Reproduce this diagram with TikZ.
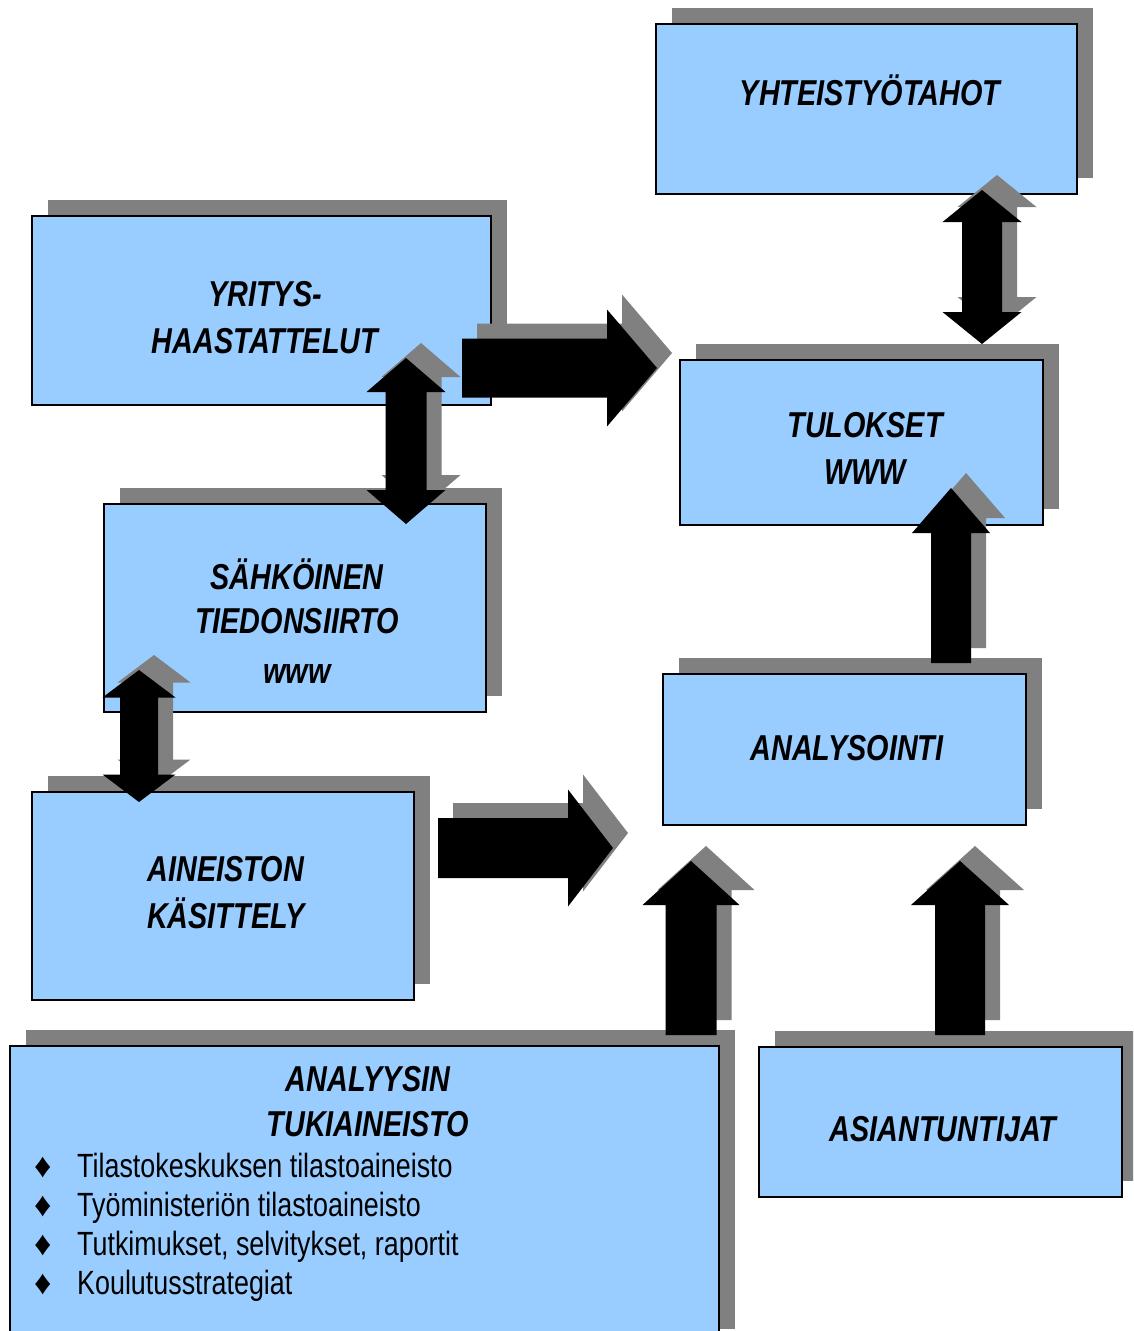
\documentclass[tikz,border=0pt]{standalone}
\usepackage{fontspec}
\setmainfont{Liberation Sans}[FakeStretch=0.8]
\newfontfamily\bulfont{Liberation Sans}
\usepackage{tikz}
\usetikzlibrary{calc, shadows, positioning}

\definecolor{boxblue}{HTML}{99CCFF}
\definecolor{shadowgray}{HTML}{808080}

\newcommand{\stack}[1]{\begin{tabular}[t]{@{}c@{}}#1\end{tabular}}
\newcommand{\bul}{\makebox[43pt][l]{\bulfont\fontsize{34}{39}\selectfont\symbol{"2666}}}

% block arrow with one head: from, to, half shaft, half head, head length
\newcommand{\onearrow}[5]{%
  \coordinate (h) at ($(#2)!#5!(#1)$);
  \fill[block arrow] ($(#1)!#3!90:(#2)$) -- ($(h)!#3!90:(#2)$) -- ($(h)!#4!90:(#2)$) -- (#2)
    -- ($(h)!#4!-90:(#2)$) -- ($(h)!#3!-90:(#2)$) -- ($(#1)!#3!-90:(#2)$) -- cycle;}

% block arrow with two heads
\newcommand{\twoarrow}[5]{%
  \coordinate (ha) at ($(#1)!#5!(#2)$);
  \coordinate (hb) at ($(#2)!#5!(#1)$);
  \fill[block arrow] (#1) -- ($(ha)!#4!90:(#2)$) -- ($(ha)!#3!90:(#2)$) -- ($(hb)!#3!90:(#2)$)
    -- ($(hb)!#4!90:(#2)$) -- (#2) -- ($(hb)!#4!-90:(#2)$) -- ($(hb)!#3!-90:(#2)$)
    -- ($(ha)!#3!-90:(#2)$) -- ($(ha)!#4!-90:(#2)$) -- cycle;}

\begin{document}
\begin{tikzpicture}[x=1pt,y=-1pt,
        flow box/.style={rectangle,draw=black,line width=1.6pt,fill=boxblue,
                drop shadow={shadow xshift=16pt,shadow yshift=16pt,fill=shadowgray,opacity=1}},
        head text/.style={anchor=base,inner sep=0pt,font=\fontsize{36}{47}\selectfont\bfseries\itshape},
        list text/.style={anchor=base west,inner sep=0pt,font=\fontsize{33.6}{39}\selectfont},
        block arrow/.style={fill=black,
                drop shadow={shadow xshift=15pt,shadow yshift=15pt,fill=shadowgray,opacity=1}}]
    \useasboundingbox (0,0) rectangle (1133,1331);
    \clip (0,0) rectangle (1133,1331);

    % boxes
    \node[flow box,minimum width=421pt,minimum height=170pt] (yht) at (866.5,109) {};
    \node[flow box,minimum width=459pt,minimum height=189pt] (yrit) at (261.5,310.5) {};
    \node[flow box,minimum width=382pt,minimum height=208pt] (sahk) at (295,608) {};
    \node[flow box,minimum width=382pt,minimum height=208pt] (aine) at (223,896) {};
    \node[flow box,minimum width=709pt,minimum height=299pt] (tuki) at (364.5,1195.5) {};
    \node[flow box,minimum width=363pt,minimum height=150pt] (asia) at (940.5,1122) {};
    \node[flow box,minimum width=363pt,minimum height=165pt] (tulos) at (861.5,442.5) {};
    \node[flow box,minimum width=363pt,minimum height=151pt] (analy) at (844.5,749.5) {};

    % texts
    \node[head text] (yhtT) at (870,105) {YHTEISTYÖTAHOT};
    \node[head text] (yritT) at (265,306) {\stack{YRITYS-\\HAASTATTELUT}};
    \node[head text] (sahkT) at (297,589) {\stack{SÄHKÖINEN\\[-3pt]TIEDONSIIRTO\\[3pt]www}};
    \node[head text] (aineT) at (226,881) {\stack{AINEISTON\\KÄSITTELY}};
    \node[head text] (tulosT) at (865,437) {\stack{TULOKSET\\WWW}};
    \node[head text] (analyT) at (847,760) {ANALYSOINTI};
    \node[head text] (asiaT) at (943,1141) {ASIANTUNTIJAT};
    \node[head text] (tukiT) at (368,1091) {\stack{ANALYYSIN\\[-2pt]TUKIAINEISTO}};
    \node[list text] (tukiL) at (34,1177) {\begin{tabular}[t]{@{}l@{}}
        \bul Tilastokeskuksen tilastoaineisto\\
        \bul Työministeriön tilastoaineisto\\
        \bul Tutkimukset, selvitykset, raportit\\
        \bul Koulutusstrategiat
      \end{tabular}};

    % arrows
    \coordinate (yrA) at (462,368);  \coordinate (tuA) at (657,368);
    \coordinate (aiA) at (438,848);  \coordinate (anA) at (613,848);
    \coordinate (yhB) at (982,190);  \coordinate (tuB) at (982,344);
    \coordinate (yrB) at (406,358);  \coordinate (saB) at (406,524);
    \coordinate (saC) at (139,670);  \coordinate (aiC) at (139,802);
    \coordinate (anB) at (951,663);  \coordinate (tuC) at (951,488);
    \coordinate (tkA) at (691,1035); \coordinate (anC) at (691,861);
    \coordinate (asA) at (960,1035); \coordinate (anD) at (960,861);

    \onearrow{yrA}{tuA}{29.5pt}{58.5pt}{50pt}
    \onearrow{aiA}{anA}{30pt}{58.5pt}{45pt}
    \twoarrow{yhB}{tuB}{20pt}{39.5pt}{32pt}
    \twoarrow{yrB}{saB}{20.5pt}{39.5pt}{34pt}
    \twoarrow{saC}{aiC}{19pt}{36.5pt}{27.5pt}
    \onearrow{anB}{tuC}{20pt}{39pt}{45pt}
    \onearrow{tkA}{anC}{25.5pt}{48.5pt}{44pt}
    \onearrow{asA}{anD}{25pt}{49pt}{44pt}
\end{tikzpicture}
\end{document}
